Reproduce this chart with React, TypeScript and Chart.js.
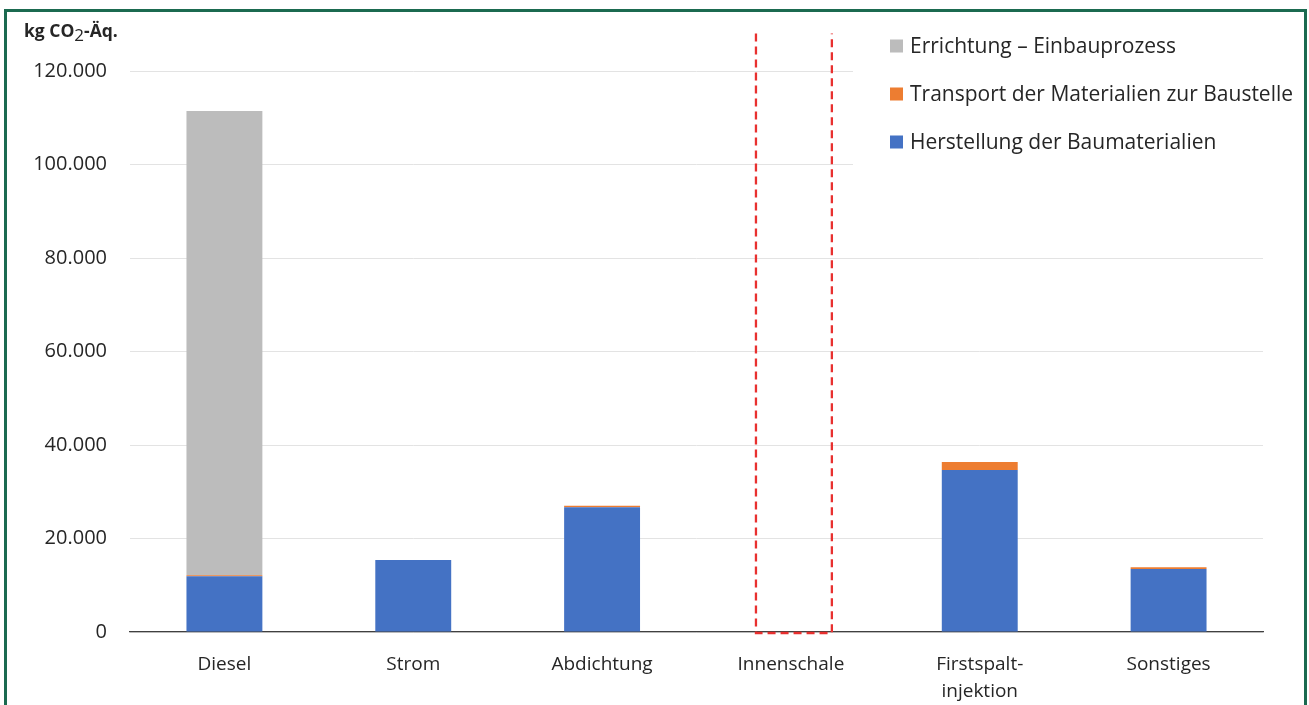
import React, { useEffect, useRef } from "react";
import { Chart, registerables } from "chart.js";

Chart.register(...registerables);

const categories: (string | string[])[] = [
  "Diesel",
  "Strom",
  "Abdichtung",
  "Innenschale",
  ["Firstspalt-", "injektion"],
  "Sonstiges",
];
const herstellung = [11900, 15400, 26700, 0, 34650, 13500];
const transport = [250, 0, 300, 0, 1700, 350];
const errichtung = [99300, 0, 0, 0, 0, 0];

const seriesLabels = [
  "Herstellung der Baumaterialien",
  "Transport der Materialien zur Baustelle",
  "Errichtung – Einbauprozess",
];
const seriesColors = ["#4472c4", "#ed7d31", "#bcbcbc"];

const yMin = 0;
const yMax = 120000;
const yStep = 20000;
const highlightIndex = 3;
const highlightTop = 128000;

const FONT = "'Open Sans', sans-serif";
const TEXT = "#262626";

function fmt(v: number): string {
  return String(Math.round(v)).replace(/\B(?=(\d{3})+(?!\d))/g, ".");
}

const overlayPlugin = {
  id: "overlay",
  afterDatasetsDraw(chart: any) {
    const ctx = chart.ctx;
    const meta = chart.getDatasetMeta(0);
    const el = meta.data[highlightIndex];
    const ys = chart.scales.y;
    if (el) {
      const left = el.x - el.width / 2 + 3;
      const right = el.x + el.width / 2 + 3;
      const top = ys.getPixelForValue(highlightTop);
      const bottom = ys.getPixelForValue(0) + 1;
      ctx.save();
      ctx.strokeStyle = "#e8302f";
      ctx.lineWidth = 2.3;
      ctx.setLineDash([8, 5]);
      ctx.beginPath();
      ctx.moveTo(left, top);
      ctx.lineTo(left, bottom);
      ctx.lineTo(right, bottom);
      ctx.lineTo(right, top);
      ctx.stroke();
      ctx.restore();
    }
  },
  afterDraw(chart: any) {
    const ctx = chart.ctx;
    ctx.save();
    // legend background
    ctx.fillStyle = "#ffffff";
    ctx.fillRect(853, 20, chart.chartArea.right - 853 + 2, 170);
    const order = [2, 1, 0];
    order.forEach((di, i) => {
      const ds = chart.data.datasets[di];
      const cy = 46 + i * 48;
      ctx.fillStyle = ds.backgroundColor;
      ctx.fillRect(890, cy - 6.5, 13, 13);
      ctx.fillStyle = TEXT;
      ctx.font = `21px ${FONT}`;
      ctx.textBaseline = "middle";
      ctx.textAlign = "left";
      ctx.fillText(ds.label, 910, cy + 1);
    });
    // axis title
    ctx.fillStyle = TEXT;
    ctx.textBaseline = "alphabetic";
    ctx.font = `bold 17.5px ${FONT}`;
    let x = 24;
    const base = 37;
    const p1 = "kg CO";
    ctx.fillText(p1, x, base);
    x += ctx.measureText(p1).width;
    ctx.font = `17px ${FONT}`;
    ctx.fillText("2", x, base + 4);
    x += ctx.measureText("2").width;
    ctx.font = `bold 17.5px ${FONT}`;
    ctx.fillText("-Äq.", x, base);
    ctx.restore();
  },
};

export default function App() {
  const ref = useRef<HTMLCanvasElement | null>(null);
  useEffect(() => {
    if (!ref.current) return;
    const chart = new Chart(ref.current, {
      type: "bar",
      data: {
        labels: categories,
        datasets: [
          { label: seriesLabels[0], data: herstellung, backgroundColor: seriesColors[0] },
          { label: seriesLabels[1], data: transport, backgroundColor: seriesColors[1] },
          { label: seriesLabels[2], data: errichtung, backgroundColor: seriesColors[2] },
        ],
      },
      options: {
        responsive: false,
        animation: false,
        layout: { padding: { left: 0, right: 46, top: 71, bottom: 0 } },
        datasets: {
          bar: { barPercentage: 0.402, categoryPercentage: 1, borderWidth: 0 },
        },
        plugins: {
          legend: { display: false },
          tooltip: { enabled: false },
        },
        scales: {
          x: {
            stacked: true,
            grid: { display: false, drawTicks: false },
            border: { display: true, color: "#404040", width: 1.2 },
            ticks: {
              color: TEXT,
              font: { family: FONT, size: 19, lineHeight: 1.42 },
              padding: 19,
              maxRotation: 0,
              autoSkip: false,
            },
            afterFit: (axis: any) => {
              axis.height = 73;
            },
          },
          y: {
            stacked: true,
            min: yMin,
            max: yMax,
            grid: { color: "#e3e3e3", lineWidth: 1, drawTicks: false },
            border: { display: false },
            ticks: {
              stepSize: yStep,
              color: TEXT,
              font: { family: FONT, size: 20 },
              padding: 23,
              callback: (v: any) => fmt(Number(v)),
            },
            afterFit: (axis: any) => {
              axis.width = 130;
            },
          },
        },
      },
      plugins: [overlayPlugin],
    } as any);
    return () => chart.destroy();
  }, []);

  return (
    <div style={{ position: "fixed", left: 0, top: 0, width: 1309, height: 705, overflow: "hidden", background: "#fff" }}>
      <canvas ref={ref} width={1309} height={705} style={{ display: "block", position: "absolute", left: 0, top: 0 }} />
      <div
        style={{
          position: "absolute",
          left: 4,
          top: 9,
          width: 1297,
          height: 720,
          border: "3px solid #1b6a50",
          boxSizing: "content-box",
          pointerEvents: "none",
        }}
      />
    </div>
  );
}
